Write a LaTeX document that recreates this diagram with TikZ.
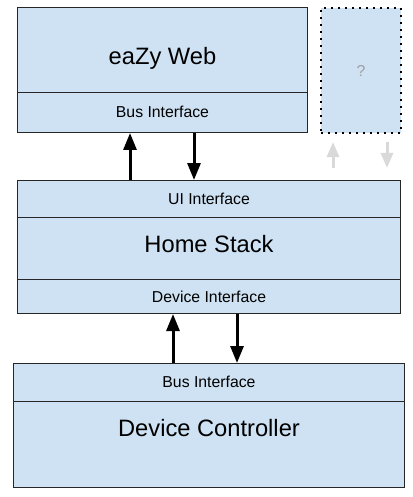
\documentclass[tikz,border=0pt]{standalone}
\usepackage{fontspec}
\setmainfont{Liberation Sans}
\usetikzlibrary{arrows.meta}
\definecolor{boxblue}{HTML}{CFE2F3}
\definecolor{ghostgrey}{HTML}{D9D9D9}
\definecolor{markgrey}{HTML}{A0A0A0}
\tikzset{
  part/.style n args={2}{draw=black!85,fill=boxblue,line width=1pt,anchor=north west,
    inner sep=0pt,minimum width=#1,minimum height=#2},
  big/.style={anchor=base,inner sep=0pt,font=\fontsize{23.7}{28}\selectfont},
  small/.style={anchor=base,inner sep=0pt,font=\fontsize{15.8}{19}\selectfont},
  flow/.style={line width=3pt,-{Triangle[width=13pt,length=17pt]}},
  ghost/.style={line width=3pt,draw=ghostgrey,-{Triangle[width=12pt,length=15pt,fill=ghostgrey]}}
}
\begin{document}
\begin{tikzpicture}[x=1pt,y=-1pt]
  \useasboundingbox (0,0) rectangle (412,497);
  \node[part={290pt}{85pt}] (web) at (17,7) {};
  \node[part={290pt}{40pt}] (webbus) at (17,92) {};
  \node[part={80pt}{125pt},draw=black,line width=2pt,dash pattern=on 2pt off 5pt] (other) at (320,7) {};
  \node[part={383pt}{37pt}] (hsui) at (17,180) {};
  \node[part={383pt}{62pt}] (hs) at (17,217) {};
  \node[part={383pt}{34pt}] (hsdev) at (17,279) {};
  \node[part={391pt}{38pt}] (dcbus) at (13,363) {};
  \node[part={391pt}{86pt}] (dc) at (13,401) {};

  \node[big] (webtxt) at (web.center |- 0,64.3) {eaZy Web};
  \node[small] (webbustxt) at (webbus.center |- 0,117.3) {Bus Interface};
  \node[small,text=markgrey] (othertxt) at (other.center |- 0,76.7) {?};
  \node[small] (hsuitxt) at (hsui.center |- 0,204.7) {UI Interface};
  \node[big] (hstxt) at (hs.center |- 0,252.7) {Home Stack};
  \node[small] (hsdevtxt) at (hsdev.center |- 0,302.3) {Device Interface};
  \node[small] (dcbustxt) at (dcbus.center |- 0,387.7) {Bus Interface};
  \node[big] (dctxt) at (dc.center |- 0,436) {Device Controller};

  \coordinate (g1) at (333,168);
  \coordinate (g2) at (387,142);
  \draw[flow] (hsui.north -| 130,0) -- (webbus.south -| 130,0);
  \draw[flow] (webbus.south -| 194,0) -- (hsui.north -| 194,0);
  \draw[flow] (dcbus.north -| 173,0) -- (hsdev.south -| 173,0);
  \draw[flow] (hsdev.south -| 237,0) -- (dcbus.north -| 237,0);
  \draw[ghost] (g1) -- (g1 |- 0,142);
  \draw[ghost] (g2) -- (g2 |- 0,168);
\end{tikzpicture}
\end{document}
